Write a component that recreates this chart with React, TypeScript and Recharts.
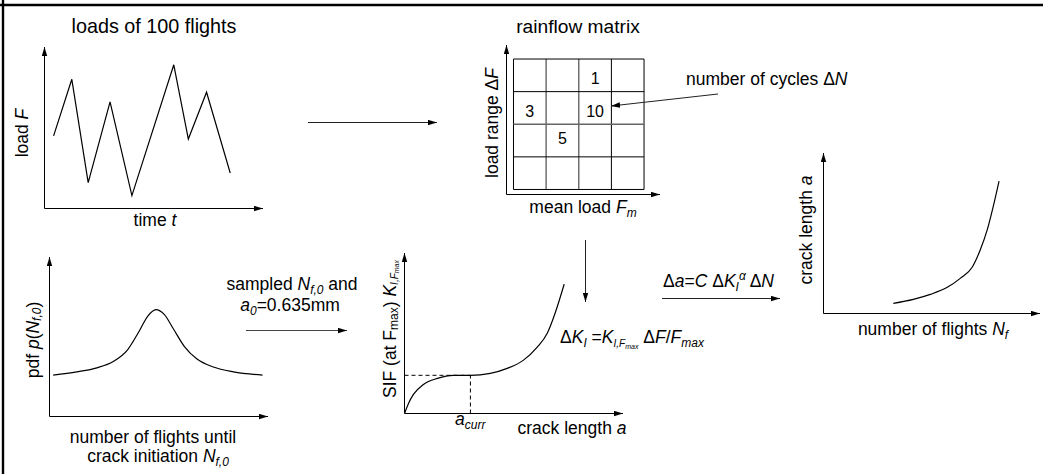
import React from "react";
import { ComposedChart, Line, Scatter, XAxis, YAxis, ReferenceLine } from "recharts";

// load history of 100 flights (arbitrary units)
const loadTime = [0.5, 1.5, 2.4, 3.6, 4.8, 7.1, 7.9, 8.9, 10.2];
const loadValue = [4.5, 8.0, 1.6, 6.6, 0.8, 8.9, 4.3, 7.2, 2.2];

// rainflow matrix: bin edges and counted cycles
const meanLoadEdges = [0, 1, 2, 3, 4];
const loadRangeEdges = [0, 1, 2, 3, 4];
const cellMean = [2.5, 0.5, 2.5, 1.5];
const cellRange = [3.4, 2.4, 2.4, 1.55];
const cellCycles = [1, 3, 10, 5];

// pdf of flights until crack initiation
const pdfFlights = [0.2, 1.5, 2.6, 3.5, 4.3, 4.9, 5.4, 5.85, 6.3, 6.8, 7.4, 8.1, 9.0, 10.1, 11.7];
const pdfDensity = [2.6, 2.8, 3.05, 3.45, 4.2, 5.3, 6.3, 6.7, 6.4, 5.5, 4.4, 3.6, 3.1, 2.8, 2.6];

// SIF over crack length
const sifCrack = [0, 0.22, 0.49, 1.04, 1.81, 2.68, 3.62, 4.71, 5.64, 6.52, 7.29, 7.84, 8.27, 8.77];
const sifValue = [0, 0.63, 1.19, 1.81, 2.19, 2.38, 2.38, 2.5, 2.81, 3.31, 4.13, 5.0, 6.25, 8.06];
const aCurr = 3.62;
const kCurr = 2.38;

// crack growth over flights
const growthFlights = [3.87, 4.98, 5.92, 6.86, 7.58, 8.24, 8.68, 9.07, 9.4, 9.73];
const growthLength = [0.63, 0.88, 1.19, 1.63, 2.19, 2.88, 3.94, 5.19, 6.63, 8.25];

const W = 1043;
const H = 474;
const FONT = "'Liberation Sans', Arial, Helvetica, sans-serif";

type Box = { x0: number; y0: number; x1: number; y1: number };
// axes take 1px each (a 0px axis is not drawn), so take it out of the margin
const marginOf = (b: Box) => ({ left: b.x0 - 1, top: b.y0, right: W - b.x1, bottom: H - b.y1 - 1 });

const zip = (xs: number[], ys: number[]) => xs.map((x, i) => ({ x, y: ys[i] }));

const loadData = zip(loadTime, loadValue);
const pdfData = zip(pdfFlights, pdfDensity);
const sifData = zip(sifCrack, sifValue);
const growthData = zip(growthFlights, growthLength);
const cells = cellMean.map((m, i) => ({ x: m, y: cellRange[i], n: cellCycles[i] }));

const xLine = { stroke: "#000", strokeWidth: 1, markerEnd: "url(#ah)" };
const yLine = { stroke: "#000", strokeWidth: 1, markerStart: "url(#ah)" };

function Panel({ box, data, xDomain, yDomain, children }: any) {
  return (
    <div style={{ position: "absolute", left: 0, top: 0 }}>
      <ComposedChart width={W} height={H} data={data} margin={marginOf(box)}>
        <XAxis type="number" dataKey="x" domain={xDomain} allowDataOverflow tick={false} tickLine={false} height={1} axisLine={xLine} />
        <YAxis type="number" dataKey="y" domain={yDomain} allowDataOverflow tick={false} tickLine={false} width={1} axisLine={yLine} />
        {children}
      </ComposedChart>
    </div>
  );
}

const curve = (type: any) => (
  <Line dataKey="y" type={type} stroke="#000" strokeWidth={1.2} dot={false} isAnimationActive={false} />
);

const gridColor = (v: number, gray: number[]) => (gray.includes(v) ? "#666" : "#000");

export default function App() {
  const txt = { fontFamily: FONT, fontSize: 17.5, fill: "#000" } as const;
  const it = { fontStyle: "italic" } as const;
  return (
    <div style={{ position: "fixed", left: 0, top: 0, width: W, height: H, background: "#fff", overflow: "hidden" }}>
      <Panel box={{ x0: 44.5, y0: 47, x1: 263, y1: 208.5 }} data={loadData} xDomain={[0, 12]} yDomain={[0, 10]}>
        {curve("linear")}
      </Panel>

      <Panel box={{ x0: 506.5, y0: 45, x1: 660, y1: 194.5 }} data={cells} xDomain={[-0.214, 4.489]} yDomain={[-0.154, 4.43]}>
        {meanLoadEdges.map((m) => (
          <ReferenceLine key={"m" + m} segment={[{ x: m, y: 0 }, { x: m, y: 4 }]} stroke={gridColor(m, [1, 2])} strokeWidth={gridColor(m, [1, 2]) === "#000" ? 1 : 1.4} />
        ))}
        {loadRangeEdges.map((r) => (
          <ReferenceLine key={"r" + r} segment={[{ x: 0, y: r }, { x: 4, y: r }]} stroke={gridColor(r, [2])} strokeWidth={gridColor(r, [2]) === "#000" ? 1 : 1.4} />
        ))}
        <Scatter
          data={cells}
          isAnimationActive={false}
          shape={(p: any) => (
            <text x={p.cx} y={p.cy} textAnchor="middle" dominantBaseline="central" fontFamily={FONT} fontSize={16} fill="#000">
              {p.payload.n}
            </text>
          )}
        />
      </Panel>

      <Panel box={{ x0: 49.5, y0: 257, x1: 268, y1: 416.5 }} data={pdfData} xDomain={[0, 12]} yDomain={[0, 10]}>
        {curve("monotone")}
      </Panel>

      <Panel box={{ x0: 404.5, y0: 253, x1: 623, y1: 413.5 }} data={sifData} xDomain={[0, 12]} yDomain={[0, 10]}>
        <ReferenceLine segment={[{ x: 0, y: kCurr }, { x: aCurr, y: kCurr }]} stroke="#000" strokeDasharray="4 3" />
        <ReferenceLine segment={[{ x: aCurr, y: 0 }, { x: aCurr, y: kCurr }]} stroke="#000" strokeDasharray="4 3" />
        {curve("monotone")}
      </Panel>

      <Panel box={{ x0: 823.5, y0: 153, x1: 1040, y1: 313.5 }} data={growthData} xDomain={[0, 12]} yDomain={[0, 10]}>
        {curve("monotone")}
      </Panel>

      <svg width={W} height={H} style={{ position: "absolute", left: 0, top: 0 }}>
        <defs>
          <marker id="ah" viewBox="0 0 10 6" refX="10" refY="3" markerWidth="9" markerHeight="6" markerUnits="userSpaceOnUse" orient="auto-start-reverse">
            <path d="M0,0 L10,3 L0,6 z" fill="#000" />
          </marker>
        </defs>
        {/* frame */}
        <line x1={3} y1={0} x2={3} y2={H} stroke="#000" strokeWidth={2.4} />
        <line x1={0} y1={5} x2={W} y2={5} stroke="#000" strokeWidth={2.4} />

        {/* flow arrows */}
        <line x1={308} y1={122.5} x2={437} y2={122.5} stroke="#222" markerEnd="url(#ah)" />
        <line x1={718} y1={94} x2={611} y2={106} stroke="#222" markerEnd="url(#ah)" />
        <line x1={585.5} y1={240} x2={585.5} y2={302} stroke="#222" markerEnd="url(#ah)" />
        <line x1={246} y1={330.5} x2={347} y2={330.5} stroke="#444" markerEnd="url(#ah)" />
        <line x1={662} y1={298.5} x2={780} y2={298.5} stroke="#222" markerEnd="url(#ah)" />

        <g {...txt}>
          <text x={154} y={33} textAnchor="middle" fontSize={19.8}>loads of 100 flights</text>
          <text x={578} y={33} textAnchor="middle" fontSize={19.2}>rainflow matrix</text>

          <text transform="translate(22,133) rotate(-90)" textAnchor="middle" dominantBaseline="central">
            load <tspan {...it}>F</tspan>
          </text>
          <text x={155} y={226} textAnchor="middle">
            time <tspan {...it}>t</tspan>
          </text>

          <text transform="translate(492,123) rotate(-90)" textAnchor="middle" dominantBaseline="central">
            load range Δ<tspan {...it}>F</tspan>
          </text>
          <text x={583} y={213} textAnchor="middle">
            mean load <tspan {...it}>F</tspan>
            <tspan {...it} fontSize={12} dy={4}>m</tspan>
          </text>
          <text x={686} y={85}>
            number of cycles Δ<tspan {...it}>N</tspan>
          </text>

          <text transform="translate(33,340) rotate(-90)" textAnchor="middle" dominantBaseline="central">
            pdf <tspan {...it}>p</tspan>(<tspan {...it}>N</tspan>
            <tspan {...it} fontSize={12} dy={4}>f,0</tspan>
            <tspan dy={-4}>)</tspan>
          </text>
          <text x={153} y={443} textAnchor="middle">number of flights until</text>
          <text x={158} y={462} textAnchor="middle">
            crack initiation <tspan {...it}>N</tspan>
            <tspan {...it} fontSize={12} dy={4}>f,0</tspan>
          </text>

          <text x={292} y={290} textAnchor="middle">
            sampled <tspan {...it}>N</tspan>
            <tspan {...it} fontSize={12} dy={4}>f,0</tspan>
            <tspan dy={-4}> and</tspan>
          </text>
          <text x={290} y={311} textAnchor="middle">
            <tspan {...it}>a</tspan>
            <tspan {...it} fontSize={12} dy={4}>0</tspan>
            <tspan dy={-4}>=0.635mm</tspan>
          </text>

          <text transform="translate(390,329) rotate(-90)" textAnchor="middle" dominantBaseline="central">
            SIF (at F<tspan fontSize={12} dy={4}>max</tspan>
            <tspan dy={-4}>) </tspan>
            <tspan {...it}>K</tspan>
            <tspan {...it} fontSize={10} dy={4}>I,F</tspan>
            <tspan {...it} fontSize={7} dy={2}>max</tspan>
          </text>
          <text x={455} y={425}>
            <tspan {...it}>a</tspan>
            <tspan {...it} fontSize={12} dy={4}>curr</tspan>
          </text>
          <text x={572} y={434} textAnchor="middle">
            crack length <tspan {...it}>a</tspan>
          </text>

          <text x={560} y={343}>
            Δ<tspan {...it}>K</tspan>
            <tspan {...it} fontSize={12} dy={4}>I</tspan>
            <tspan dy={-4}> =</tspan>
            <tspan {...it}>K</tspan>
            <tspan {...it} fontSize={10} dy={4}>I,F</tspan>
            <tspan {...it} fontSize={7} dy={2}>max</tspan>
            <tspan dy={-6}> Δ</tspan>
            <tspan {...it}>F</tspan>/<tspan {...it}>F</tspan>
            <tspan {...it} fontSize={12} dy={4}>max</tspan>
          </text>

          <text x={663} y={287}>
            Δ<tspan {...it}>a</tspan>=<tspan {...it}>C</tspan> Δ<tspan {...it}>K</tspan>
            <tspan {...it} fontSize={12} dy={4}>I</tspan>
            <tspan {...it} fontSize={12} dy={-11}>α</tspan>
            <tspan dy={7}> Δ</tspan>
            <tspan {...it}>N</tspan>
          </text>

          <text transform="translate(806,230) rotate(-90)" textAnchor="middle" dominantBaseline="central">
            crack length <tspan {...it}>a</tspan>
          </text>
          <text x={933} y={335} textAnchor="middle">
            number of flights <tspan {...it}>N</tspan>
            <tspan {...it} fontSize={12} dy={4}>f</tspan>
          </text>
        </g>
      </svg>
    </div>
  );
}
